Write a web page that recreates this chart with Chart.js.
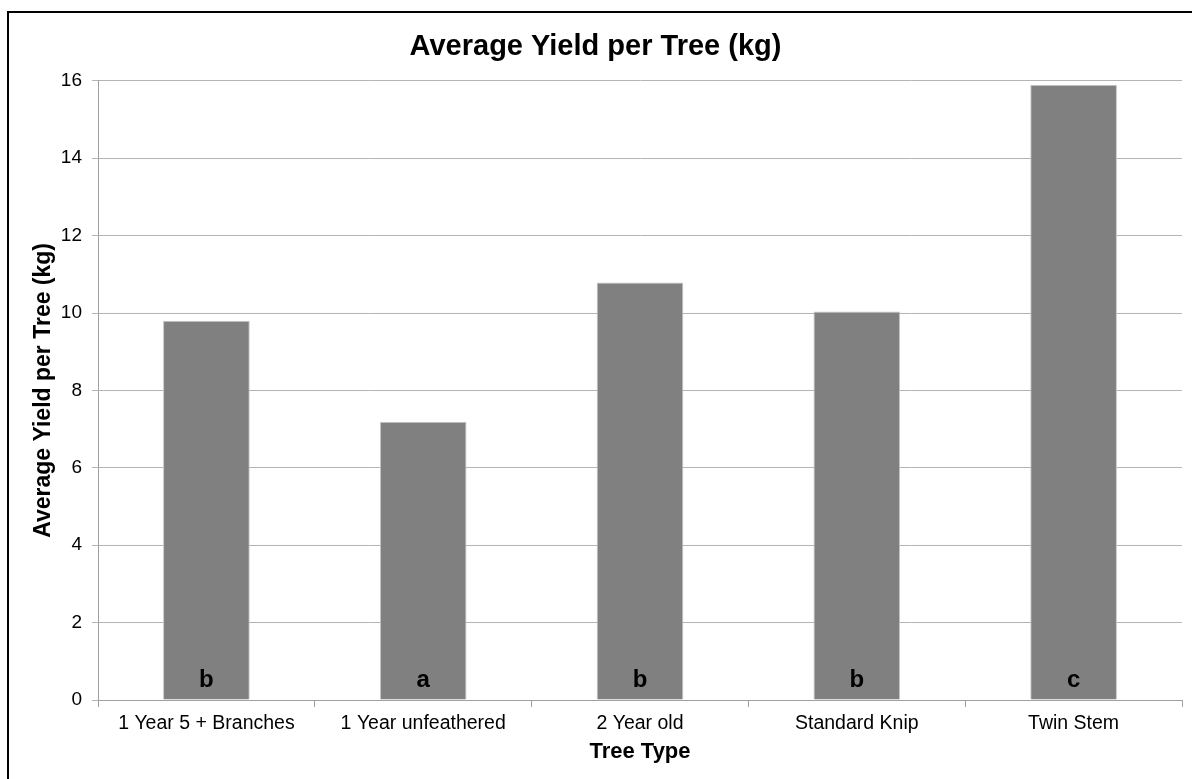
<!DOCTYPE html>
<html>
<head>
<meta charset="utf-8">
<script src="https://cdn.jsdelivr.net/npm/chart.js@4.4.0/dist/chart.umd.min.js"></script>
<style>
  html, body { margin: 0; padding: 0; background: #fff; overflow: hidden; }
  #frame { position: absolute; left: 7px; top: 11px; border: 2px solid #000; width: 1190px; height: 770px; }
  #wrap { width: 1190px; height: 770px; }
</style>
</head>
<body>
<div id="frame"><div id="wrap"><canvas id="yieldChart"></canvas></div></div>
<script>
// ── Average yield per tree ──
const treeTypes = ['1 Year 5 + Branches', '1 Year unfeathered', '2 Year old', 'Standard Knip', 'Twin Stem'];
const avgYield = [9.8, 7.19, 10.79, 10.04, 15.9];
const groupLetters = ['b', 'a', 'b', 'b', 'c'];
const yTicks = [0, 2, 4, 6, 8, 10, 12, 14, 16];

const FONT = '"Liberation Sans", Arial, sans-serif';

// letters for significance groups, sat near the bottom of each bar
const letterPlugin = {
  id: 'groupLetters',
  afterDatasetsDraw(chart) {
    const ctx = chart.ctx;
    const meta = chart.getDatasetMeta(0);
    const zeroY = chart.scales.y.getPixelForValue(0);
    ctx.save();
    ctx.font = 'bold 24px ' + FONT;
    ctx.fillStyle = '#000';
    ctx.textAlign = 'center';
    ctx.textBaseline = 'alphabetic';
    meta.data.forEach((bar, i) => {
      ctx.fillText(groupLetters[i], bar.x, zeroY - 13);
    });
    ctx.restore();
  }
};

const ctx = document.getElementById('yieldChart').getContext('2d');
new Chart(ctx, {
  type: 'bar',
  data: {
    labels: treeTypes,
    datasets: [{
      data: avgYield,
      backgroundColor: '#808080',
      borderColor: '#c8c8c8',
      borderWidth: 1,
      barPercentage: 0.4,
      categoryPercentage: 1.0
    }]
  },
  options: {
    responsive: true,
    maintainAspectRatio: false,
    animation: false,
    layout: { padding: { left: 0, right: 17, top: 0, bottom: 11 } },
    plugins: {
      legend: { display: false },
      tooltip: { enabled: false },
      title: {
        display: true,
        text: 'Average Yield per Tree (kg)',
        color: '#000',
        font: { family: FONT, size: 29, weight: 'bold' },
        padding: { top: 17, bottom: 16 }
      }
    },
    scales: {
      x: {
        grid: { drawOnChartArea: false, drawTicks: true, tickLength: 7, color: '#a0a0a0', offset: true },
        border: { color: '#a0a0a0', width: 1 },
        ticks: { color: '#000', font: { family: FONT, size: 19.5 }, padding: 5, maxRotation: 0 },
        title: {
          display: true,
          text: 'Tree Type',
          color: '#000',
          font: { family: FONT, size: 22, weight: 'bold' },
          padding: { top: 0, bottom: 7 }
        },
        afterFit: s => { s.height = 72; }
      },
      y: {
        min: 0,
        max: 16,
        afterBuildTicks: s => { s.ticks = yTicks.map(v => ({ value: v })); },
        grid: { color: '#b4b4b4', tickLength: 6, drawTicks: true },
        border: { color: '#a0a0a0', width: 1 },
        ticks: { color: '#000', font: { family: FONT, size: 19 }, padding: 10 },
        title: {
          display: true,
          text: 'Average Yield per Tree (kg)',
          color: '#000',
          font: { family: FONT, size: 23, weight: 'bold' },
          padding: { top: 21, bottom: 0 }
        },
        afterFit: s => { s.width = 89; }
      }
    }
  },
  plugins: [letterPlugin]
});
</script>
</body>
</html>
